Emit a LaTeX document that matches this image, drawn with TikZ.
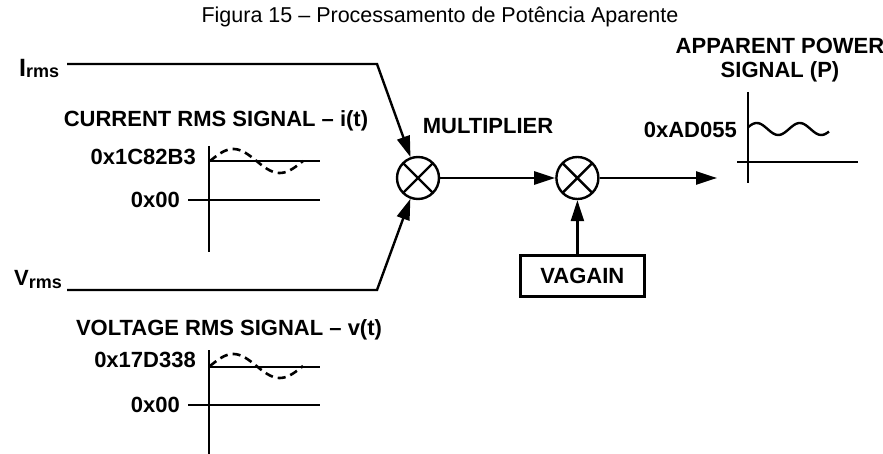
\documentclass[tikz,border=0pt]{standalone}
\usepackage{fontspec}
\setmainfont{Liberation Sans}
\setsansfont{Liberation Sans}
\usetikzlibrary{positioning, arrows.meta}

\begin{document}
\begin{tikzpicture}[
    x=1pt, y=-1pt,
    font=\sffamily\bfseries\fontsize{22}{24}\selectfont,
    line width=2.4pt,
    >={Triangle[length=21pt, width=13pt]},
    mult/.style={circle, draw, line width=2.4pt, minimum size=42pt, inner sep=0pt,
        path picture={\draw[line width=2.4pt]
            (path picture bounding box.north west) -- (path picture bounding box.south east)
            (path picture bounding box.north east) -- (path picture bounding box.south west);}},
    gainbox/.style={rectangle, draw, line width=2.4pt, minimum width=124pt, minimum height=41pt},
    lbl/.style={inner sep=0pt, anchor=base},
    val/.style={inner sep=0pt, anchor=east},
    axis/.style={line width=2.4pt},
    wave/.style={line width=2.6pt, dash pattern=on 8pt off 5pt}
]
    \useasboundingbox (0,0) rectangle (883,454);

    \node[lbl, font=\sffamily\mdseries\fontsize{21.5}{24}\selectfont] (title) at (440,23)
        {Figura 15 – Processamento de Potência Aparente};

    % multipliers and gain
    \node[mult] (m1) at (418,178) {};
    \node[mult, right=115pt of m1] (m2) {};
    \node[gainbox, below=54pt of m2, xshift=5pt] (vagain) {VAGAIN};
    \node[lbl] (mlabel) at (488,134) {MULTIPLIER};

    % inputs
    \node[anchor=base west, inner sep=0pt] (irms) at (18,77)
        {\fontsize{25}{25}\selectfont I\raisebox{-1pt}{\fontsize{18}{18}\selectfont rms}};
    \node[anchor=base west, inner sep=0pt] (vrms) at (13,286)
        {V\raisebox{-2pt}{\fontsize{18}{18}\selectfont rms}};
    \coordinate (istart) at (67,64);
    \coordinate (ibend) at (377,64);
    \coordinate (vstart) at (67,290);
    \coordinate (vbend) at (377,290);
    \coordinate (pout) at (717,178);

    \draw[->] (istart) -- (ibend) -- (m1);
    \draw[->] (vstart) -- (vbend) -- (m1);
    \draw[->] (m1) -- (m2);
    \draw[->] (m2) -- (pout);
    \draw[->] (vagain.north -| m2) -- (m2);

    % current rms signal
    \node[lbl] (ilabel) at (216,127) {CURRENT RMS SIGNAL – i(t)};
    \node[val] (ipeak) at (197,157) {0x1C82B3};
    \node[val] (izero) at (181,200) {0x00};
    \draw[axis] (209,146) -- (209,252);
    \draw[axis] (209,161) -- (320,161);
    \draw[axis] (188,200) -- (320,200);
    \draw[wave] plot[variable=\t, domain=0:93, samples=40, smooth] ({210+\t}, {161-12*sin(\t/93*360)});

    % voltage rms signal
    \node[lbl] (vlabel) at (229,335) {VOLTAGE RMS SIGNAL – v(t)};
    \node[val] (vpeak) at (197,360) {0x17D338};
    \node[val] (vzero) at (181,405) {0x00};
    \draw[axis] (209,350) -- (209,454);
    \draw[axis] (209,367) -- (320,367);
    \draw[axis] (188,405) -- (320,405);
    \draw[wave] plot[variable=\t, domain=0:93, samples=40, smooth] ({210+\t}, {366-12*sin(\t/93*360)});

    % apparent power signal
    \node[lbl] (ptitle) at (780,54) {APPARENT POWER};
    \node[lbl] (psub) at (780,78) {SIGNAL (P)};
    \node[val] (pval) at (738,130) {0xAD055};
    \draw[axis] (748,92) -- (748,183);
    \draw[axis] (737,162) -- (858,162);
    \draw[axis] plot[variable=\t, domain=2:83, samples=50, smooth] ({746+\t}, {129-6*sin(\t/43*360)});
\end{tikzpicture}
\end{document}
